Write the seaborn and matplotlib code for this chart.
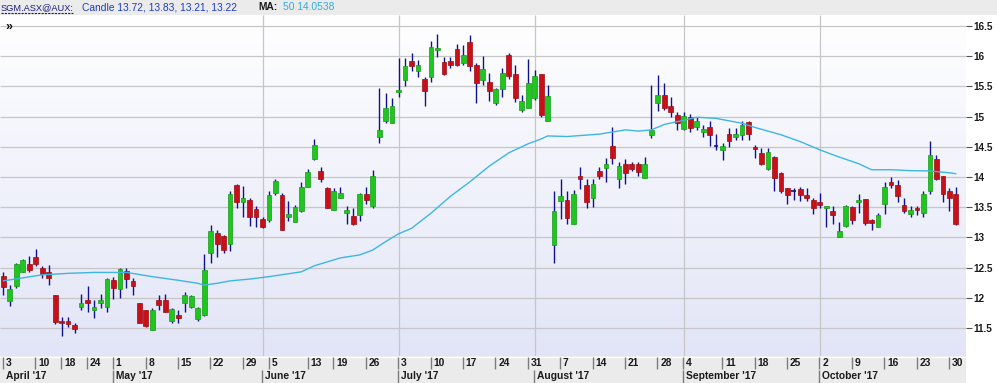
import numpy as np
import pandas as pd
import matplotlib
matplotlib.use("Agg")
import matplotlib.pyplot as plt
import seaborn as sns
from matplotlib.colors import LinearSegmentedColormap
from matplotlib.lines import Line2D
from matplotlib.patches import Rectangle

# ---------------- data ----------------
opens = [12.36, 11.95, 12.20, 12.43, 12.56, 12.67, 12.49, 12.43, 12.05, 11.62,
         11.62, 11.55, 11.85, 11.96, 11.80, 11.92, 11.85, 12.30, 12.14, 12.44,
         12.27, 11.91, 11.79, 11.47, 11.96, 11.96, 11.61, 11.72, 11.92, 11.85,
         11.65, 11.72, 12.75, 13.07, 13.02, 12.89, 13.87, 13.58, 13.62, 13.47,
         13.31, 13.29, 13.73, 13.70, 13.34, 13.26, 13.43, 13.84, 14.30, 14.10,
         13.81, 13.45, 13.66, 13.40, 13.36, 13.37, 13.72, 13.52, 14.66, 14.93,
         14.90, 15.41, 15.61, 15.92, 15.76, 15.62, 15.66, 16.10, 15.90, 15.92,
         16.12, 15.89, 16.23, 15.85, 15.61, 15.57, 15.23, 15.45, 16.02, 15.71,
         15.11, 15.15, 15.30, 15.71, 14.93, 12.87, 13.61, 13.62, 13.23, 14.01,
         13.87, 13.66, 14.10, 14.15, 14.51, 13.96, 14.22, 14.22, 14.22, 13.99,
         14.70, 15.23, 15.36, 15.18, 15.03, 14.80, 14.99, 14.82, 14.75, 14.82,
         14.51, 14.45, 14.71, 14.66, 14.70, 14.91, 14.50, 14.40, 14.13, 14.33,
         14.06, 13.81, 13.77, 13.80, 13.70, 13.62, 13.59, 13.48, 13.43, 13.00,
         13.19, 13.50, 13.59, 13.63, 13.29, 13.17, 13.56, 13.91, 13.87, 13.54,
         13.39, 13.49, 13.41, 13.76, 14.29, 14.02, 13.77, 13.72]
highs = [12.42, 12.21, 12.58, 12.64, 12.69, 12.80, 12.52, 12.54, 12.05, 11.69,
         11.69, 11.58, 12.06, 12.20, 11.96, 12.07, 12.33, 12.34, 12.50, 12.49,
         12.32, 11.92, 11.80, 11.83, 12.05, 12.06, 11.83, 11.79, 12.09, 12.05,
         11.85, 12.72, 13.21, 13.13, 13.04, 13.76, 13.88, 13.85, 13.66, 13.52,
         13.33, 13.76, 13.96, 13.73, 13.60, 13.54, 13.91, 14.14, 14.63, 14.16,
         13.84, 13.82, 13.84, 13.52, 13.48, 13.74, 13.83, 14.12, 15.48, 15.39,
         15.30, 15.97, 15.97, 16.06, 15.94, 15.66, 16.25, 16.37, 15.98, 15.98,
         16.21, 16.19, 16.35, 15.88, 16.00, 15.72, 15.47, 15.80, 16.06, 15.86,
         15.36, 15.95, 15.77, 15.71, 15.52, 13.77, 13.97, 13.77, 13.79, 14.16,
         13.96, 13.97, 14.17, 14.31, 14.82, 14.25, 14.29, 14.25, 14.25, 14.33,
         15.52, 15.69, 15.56, 15.33, 15.07, 15.08, 15.05, 15.00, 14.86, 14.92,
         14.71, 14.57, 14.81, 14.81, 14.92, 14.93, 14.53, 14.48, 14.48, 14.34,
         14.09, 13.82, 13.81, 13.84, 13.81, 13.65, 13.73, 13.52, 13.52, 13.26,
         13.54, 13.52, 13.72, 13.63, 13.30, 13.41, 13.92, 14.00, 13.95, 13.66,
         13.52, 13.52, 13.77, 14.59, 14.37, 14.02, 13.81, 13.83]
lows = [12.05, 11.87, 12.16, 12.42, 12.43, 12.52, 12.32, 12.22, 11.56, 11.36,
        11.51, 11.42, 11.80, 11.77, 11.66, 11.83, 11.76, 11.98, 11.99, 12.16,
        12.05, 11.58, 11.51, 11.46, 11.79, 11.77, 11.59, 11.58, 11.77, 11.83,
        11.61, 11.70, 12.58, 12.67, 12.75, 12.78, 13.48, 13.34, 13.19, 13.18,
        13.15, 13.26, 13.70, 13.12, 13.27, 13.26, 13.42, 13.84, 14.28, 13.91,
        13.48, 13.45, 13.66, 13.22, 13.21, 13.27, 13.56, 13.49, 14.56, 14.90,
        14.89, 15.33, 15.51, 15.76, 15.66, 15.18, 15.58, 15.99, 15.69, 15.80,
        15.83, 15.85, 15.76, 15.22, 15.52, 15.26, 15.19, 15.33, 15.63, 15.25,
        15.08, 15.14, 15.28, 14.99, 14.92, 12.57, 13.30, 13.23, 13.22, 13.80,
        13.48, 13.51, 13.96, 13.91, 14.22, 13.81, 13.88, 14.10, 14.02, 13.99,
        14.65, 15.10, 15.11, 15.00, 14.78, 14.78, 14.75, 14.78, 14.67, 14.51,
        14.45, 14.28, 14.50, 14.61, 14.61, 14.61, 14.32, 14.20, 14.12, 13.76,
        13.74, 13.56, 13.62, 13.61, 13.61, 13.39, 13.48, 13.18, 13.22, 13.00,
        13.18, 13.22, 13.40, 13.21, 13.12, 13.17, 13.39, 13.81, 13.59, 13.40,
        13.34, 13.37, 13.34, 13.72, 13.95, 13.59, 13.43, 13.21]
closes = [12.18, 12.15, 12.56, 12.63, 12.46, 12.56, 12.39, 12.32, 11.60, 11.58,
          11.56, 11.49, 11.92, 11.91, 11.85, 11.96, 12.31, 12.17, 12.47, 12.31,
          12.20, 11.59, 11.54, 11.80, 11.88, 11.77, 11.82, 11.67, 12.05, 12.03,
          11.83, 12.46, 13.11, 12.89, 12.79, 13.72, 13.58, 13.66, 13.34, 13.33,
          13.18, 13.70, 13.94, 13.13, 13.39, 13.50, 13.84, 14.08, 14.53, 13.96,
          13.48, 13.77, 13.74, 13.45, 13.22, 13.72, 13.62, 14.01, 14.77, 15.14,
          15.18, 15.44, 15.83, 15.84, 15.85, 15.43, 16.15, 16.13, 15.71, 15.85,
          15.85, 16.02, 15.84, 15.55, 15.78, 15.43, 15.45, 15.72, 15.67, 15.30,
          15.25, 15.55, 15.67, 15.03, 15.34, 13.43, 13.69, 13.32, 13.72, 13.97,
          13.58, 13.88, 14.02, 14.22, 14.31, 14.18, 14.06, 14.14, 14.09, 14.22,
          14.77, 15.36, 15.14, 15.07, 14.90, 15.01, 14.81, 14.93, 14.80, 14.70,
          14.51, 14.51, 14.59, 14.72, 14.86, 14.71, 14.47, 14.21, 14.42, 13.98,
          13.76, 13.71, 13.77, 13.70, 13.65, 13.48, 13.54, 13.52, 13.37, 13.11,
          13.52, 13.29, 13.62, 13.24, 13.24, 13.37, 13.83, 13.86, 13.69, 13.44,
          13.45, 13.45, 13.72, 14.37, 13.96, 13.72, 13.65, 13.22]

# 50-day moving average, read at selected trading days (trading-day number, value)
ma_day = [0, 3, 6, 10, 14, 19, 23, 27, 30, 31, 33, 35, 38, 41, 46, 48, 52, 55,
          57, 59, 61, 63, 66, 69, 72, 75, 78, 81, 83, 84, 87, 92, 96, 98, 100,
          102, 105, 107, 110, 112, 114, 116, 118, 120, 123, 126, 129, 132, 134,
          137, 140, 143, 146, 147]
ma_val = [12.28, 12.33, 12.38, 12.405, 12.42, 12.42, 12.35, 12.29, 12.24, 12.21,
          12.24, 12.28, 12.31, 12.35, 12.43, 12.53, 12.66, 12.71, 12.79, 12.93,
          13.06, 13.15, 13.40, 13.68, 13.92, 14.18, 14.40, 14.55, 14.63, 14.68,
          14.67, 14.71, 14.78, 14.76, 14.78, 14.87, 14.94, 14.99, 14.97, 14.93,
          14.89, 14.82, 14.76, 14.70, 14.585, 14.45, 14.33, 14.22, 14.12, 14.12,
          14.105, 14.10, 14.07, 14.054]

holidays = ["2017-04-14", "2017-04-17", "2017-04-25", "2017-06-12"]
week_labels = ["3", "10", "18", "24", "1", "8", "15", "22", "29", "5", "13", "19",
               "26", "3", "10", "17", "24", "31", "7", "14", "21", "28", "4", "11",
               "18", "25", "2", "9", "16", "23", "30"]
week_anchor = ["2017-04-03", "2017-04-10", "2017-04-18", "2017-04-24", "2017-05-01",
               "2017-05-08", "2017-05-15", "2017-05-22", "2017-05-29", "2017-06-02",
               "2017-06-13", "2017-06-19", "2017-06-26", "2017-07-03", "2017-07-10",
               "2017-07-17", "2017-07-24", "2017-07-31", "2017-08-07", "2017-08-14",
               "2017-08-21", "2017-08-28", "2017-09-01", "2017-09-11", "2017-09-18",
               "2017-09-25", "2017-10-02", "2017-10-09", "2017-10-16", "2017-10-23",
               "2017-10-30"]
month_labels = ["April '17", "May '17", "June '17", "July '17", "August '17",
                "September '17", "October '17"]
month_anchor = ["2017-04-03", "2017-05-01", "2017-06-01", "2017-07-03", "2017-08-01",
                "2017-09-01", "2017-10-02"]
y_ticks = [11.5, 12, 12.5, 13, 13.5, 14, 14.5, 15, 15.5, 16, 16.5]

# ---------------- setup ----------------
sns.set_style("white")
plt.rcParams["font.family"] = ["Liberation Sans", "DejaVu Sans"]

days = pd.bdate_range("2017-04-03", "2017-10-31")
days = days[~days.isin(pd.to_datetime(holidays))]
pos = np.arange(len(days))
df = pd.DataFrame({"pos": pos, "open": opens, "high": highs, "low": lows, "close": closes})

def day_pos(d):
    return days.get_loc(pd.Timestamp(d))

W, H = 997, 383
fig = plt.figure(figsize=(W / 100, H / 100), dpi=100)
fig.patch.set_facecolor("white")

px0, step = 3.3, 6.48          # pixel of first candle, pixels per trading day
plot_top, plot_bot, plot_right = 15, 356, 966
y_ref_px, y_ref, ppu = 177, 14.0, 60.4

ax = fig.add_axes([0, (H - plot_bot) / H, plot_right / W, (plot_bot - plot_top) / H])
xl = (-px0 / step, (plot_right - px0) / step)
yl = (y_ref - (plot_bot - y_ref_px) / ppu, y_ref + (y_ref_px - plot_top) / ppu)
ax.set_xlim(*xl)
ax.set_ylim(*yl)

bg = LinearSegmentedColormap.from_list("bg", ["#ffffff", "#e2e5f7"])
ax.imshow(np.linspace(0, 1, 256).reshape(-1, 1), extent=[xl[0], xl[1], yl[0], yl[1]],
          aspect="auto", cmap=bg, origin="upper", zorder=0)

ax.hlines(y_ticks, xl[0], xl[1], color="#c6c6c6", lw=0.9, zorder=1)
ax.vlines([day_pos(d) for d in month_anchor[2:]], yl[0], yl[1], color="#c6c6c6", lw=0.9, zorder=1)

# wicks
ax.vlines(df["pos"], df["low"], df["high"], color="#11118c", lw=1.0, zorder=3)
# bodies
up = df[df["close"] > df["open"] + 0.004]
dn = df[df["close"] < df["open"] - 0.004]
dj = df[(df["close"] - df["open"]).abs() <= 0.004]
bw = 0.74
ax.bar(up["pos"], up["close"] - up["open"], bottom=up["open"], width=bw,
       color="#20c620", edgecolor="#179a17", lw=0.5, zorder=4)
ax.bar(dn["pos"], dn["open"] - dn["close"], bottom=dn["close"], width=bw,
       color="#c8101a", edgecolor="#9a0c12", lw=0.5, zorder=4)
ax.hlines(dj["open"], dj["pos"] - bw / 2, dj["pos"] + bw / 2, color="#11118c", lw=1.2, zorder=4)

# moving average
sns.lineplot(x=ma_day, y=ma_val, ax=ax, color="#3db6e4", lw=1.0, zorder=5,
             estimator=None, sort=False)

ax.set_xticks([])
ax.yaxis.tick_right()
ax.set_yticks(y_ticks)
ax.set_yticklabels([f"{v:g}" for v in y_ticks], fontsize=7.2, fontweight="bold")
ax.tick_params(axis="y", direction="out", length=4, width=0.8, color="#505050",
               labelcolor="#1a1a1a", pad=1.5, right=True, left=False)
for s in ax.spines.values():
    s.set_visible(False)
ax.grid(False)
ax.text(0.3, 16.48, "\u00bb", fontsize=9, fontweight="bold", color="#111111",
        ha="left", va="center", zorder=6)

# date strip
ax2 = fig.add_axes([0, 0, plot_right / W, (H - plot_bot) / H])
ax2.set_xlim(*xl)
ax2.set_ylim(0, H - plot_bot)
ax2.set_facecolor("#ebebeb")
ax2.set_xticks([]); ax2.set_yticks([])
for s in ax2.spines.values():
    s.set_visible(False)
ax2.axhline(H - plot_bot - 0.5, color="#ffffff", lw=1)
for lab, d in zip(week_labels, week_anchor):
    p = day_pos(d) - 0.05
    ax2.vlines(p, 14, 26, color="#7c7c7c", lw=1.0)
    ax2.text(p + 0.42, 20.2, lab, fontsize=7.4, fontweight="bold", color="#1a1a1a",
             ha="left", va="center")
for lab, d in zip(month_labels, month_anchor):
    p = day_pos(d) - 0.05
    if d != month_anchor[0]:
        ax2.vlines(p, 0, 13.5, color="#7c7c7c", lw=1.0)
    ax2.text(p + 0.42, 7.2, lab, fontsize=7.4, fontweight="bold", color="#1a1a1a",
             ha="left", va="center")

# header bar
fig.patches.append(Rectangle((0, (H - 15) / H), 1, 15 / H, transform=fig.transFigure,
                             facecolor="#ebebeb", edgecolor="none", zorder=0))
hy = 1 - 7.5 / H
fig.text(1 / W, hy, "SGM.ASX@AUX:", fontsize=6.7, color="#1a1a80", ha="left", va="center")
fig.lines.append(Line2D([1 / W, 73 / W], [1 - 13 / H, 1 - 13 / H], transform=fig.transFigure,
                        color="#1a1a80", lw=0.8, ls=(0, (2, 1))))
fig.text(82 / W, hy, "Candle 13.72, 13.83, 13.21, 13.22", fontsize=7.4, color="#1f3cc4",
         ha="left", va="center")
fig.text(258 / W, hy, "MA:", fontsize=7.4, fontweight="bold", color="#1a1a1a",
         ha="left", va="center")
fig.text(283 / W, hy, "50 14.0538", fontsize=7.4, color="#2eaee0", ha="left", va="center")

fig.savefig("out.png", dpi=100)
